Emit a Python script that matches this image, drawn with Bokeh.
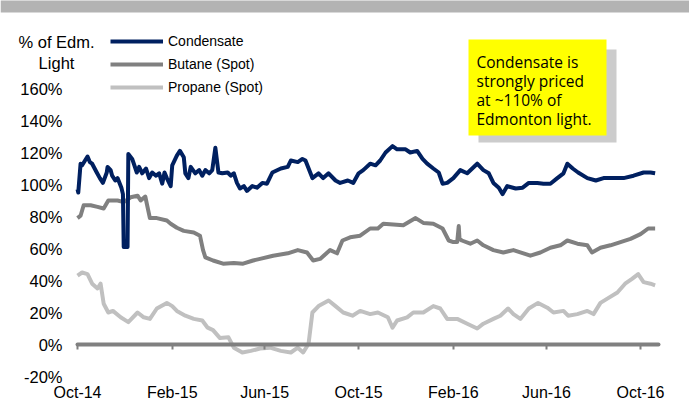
import pandas as pd
from bokeh.plotting import figure
from bokeh.models import (ColumnDataSource, LinearAxis, FixedTicker, BoxAnnotation,
                          Label, Legend, LegendItem, Range1d)
from bokeh.embed import file_html
from bokeh.resources import INLINE

# ---------------- data ----------------
cond_dates = ["2014-10-01","2014-10-02","2014-10-05","2014-10-07","2014-10-14","2014-10-17","2014-10-20",
              "2014-10-26","2014-10-30","2014-11-03","2014-11-08","2014-11-09","2014-11-13","2014-11-15",
              "2014-11-19","2014-11-22","2014-11-27","2014-11-29","2014-11-30","2014-12-05","2014-12-06",
              "2014-12-11","2014-12-17","2014-12-20","2014-12-24","2014-12-29","2015-01-02","2015-01-06",
              "2015-01-11","2015-01-15","2015-01-19","2015-01-22","2015-01-25","2015-01-30","2015-02-01",
              "2015-02-07","2015-02-11","2015-02-16","2015-02-18","2015-02-22","2015-02-25","2015-03-03",
              "2015-03-08","2015-03-12","2015-03-16","2015-03-21","2015-03-25","2015-03-29","2015-04-02",
              "2015-04-07","2015-04-14","2015-04-18","2015-04-22","2015-04-26","2015-04-30","2015-05-05",
              "2015-05-09","2015-05-16","2015-05-22","2015-05-29","2015-06-04","2015-06-11",
              "2015-06-22","2015-07-01","2015-07-05","2015-07-14","2015-07-20","2015-07-24","2015-08-02",
              "2015-08-10","2015-08-16","2015-08-23","2015-09-01","2015-09-07","2015-09-17","2015-09-24",
              "2015-10-01","2015-10-07","2015-10-16","2015-10-23","2015-10-29","2015-11-05","2015-11-14",
              "2015-11-20","2015-12-01","2015-12-07","2015-12-16","2015-12-23","2015-12-29","2016-01-06",
              "2016-01-13","2016-01-18","2016-01-24","2016-02-01","2016-02-10","2016-02-19","2016-03-03",
              "2016-03-11","2016-03-18","2016-03-24","2016-03-31","2016-04-05","2016-04-11","2016-04-22",
              "2016-05-01","2016-05-09","2016-05-20","2016-05-28","2016-06-06","2016-06-15","2016-06-23",
              "2016-06-28","2016-07-05","2016-07-12","2016-07-24","2016-08-04","2016-08-14","2016-08-27",
              "2016-09-09","2016-09-22","2016-10-05","2016-10-14","2016-10-20"]
cond_vals = [97, 95, 113, 112, 117.5, 114, 113,
             107.5, 104, 101, 107.5, 111, 109, 105.5,
             102.5, 104, 98, 94, 61, 61, 119,
             116, 107.5, 111, 107, 110, 104, 107.5,
             105.5, 107, 100.5, 107.5, 104, 99, 112,
             118, 121, 117, 107, 104, 111, 107,
             109, 105.5, 109, 107, 109, 123, 107.5,
             107, 107.5, 105.5, 107, 101, 97.5, 99,
             96, 99, 98, 101, 100.5, 107.5,
             110, 111, 115, 114, 116, 115, 104,
             107, 104, 107, 102.5, 101, 102.5, 101,
             107, 109, 113, 112, 115, 120, 124,
             122, 122, 120, 121, 116, 113, 110,
             107.5, 100.5, 101, 104, 109, 107, 113,
             109, 107, 101, 98, 94, 99, 97.5,
             98, 101, 101, 100.5, 100.5, 104, 107,
             113, 110, 107.5, 104, 102.5, 104, 104,
             104, 105.5, 107.5, 107.5, 107]

butane_dates = ["2014-10-01","2014-10-05","2014-10-09","2014-10-18","2014-10-27","2014-11-04","2014-11-10",
                "2014-11-22","2014-11-30","2014-12-09","2014-12-18","2014-12-22","2014-12-28","2015-01-03",
                "2015-01-12","2015-01-25","2015-01-30","2015-02-07","2015-02-16","2015-03-01","2015-03-09",
                "2015-03-13","2015-03-16","2015-03-26","2015-04-08","2015-04-22","2015-05-04","2015-05-17",
                "2015-05-26","2015-06-12","2015-07-01","2015-07-14","2015-07-26","2015-08-03","2015-08-12",
                "2015-08-25","2015-09-03","2015-09-10","2015-09-20","2015-10-03","2015-10-16","2015-10-26",
                "2015-11-02","2015-11-15","2015-11-28","2015-12-14","2015-12-24","2016-01-06","2016-01-18",
                "2016-01-26","2016-02-01","2016-02-06","2016-02-08","2016-02-09","2016-02-12","2016-02-23",
                "2016-03-03","2016-03-11","2016-03-24","2016-04-06","2016-04-19","2016-05-02","2016-05-11",
                "2016-05-24","2016-06-06","2016-06-19","2016-06-28","2016-07-11","2016-07-24","2016-07-30",
                "2016-08-10","2016-08-23","2016-09-05","2016-09-18","2016-10-01","2016-10-11","2016-10-20"]
butane_vals = [79, 80.5, 87, 87, 86, 85, 90,
               90, 89, 92, 93, 90, 92.5, 79,
               79, 77.5, 75.5, 73, 71, 70, 68,
               59, 54.5, 52.5, 50.5, 51, 50.5, 52.5,
               53.5, 55.5, 57, 59, 57.5, 52.5, 53.5,
               59, 57, 65, 67, 68, 72.5, 72.5,
               75.5, 75, 74.5, 79, 76, 75.5, 72.5,
               65, 64, 64, 74, 66, 65, 63,
               65, 62, 59, 57.5, 59, 57, 55.5,
               57.5, 60.5, 62, 65, 63, 62, 57.5,
               60.5, 62, 64, 66, 69, 72.5, 72.5]

propane_dates = ["2014-10-01","2014-10-07","2014-10-14","2014-10-20","2014-10-27","2014-10-31","2014-11-04",
                 "2014-11-10","2014-11-16","2014-11-26","2014-12-06","2014-12-18","2014-12-26","2015-01-03",
                 "2015-01-12","2015-01-25","2015-02-01","2015-02-07","2015-02-18","2015-03-01","2015-03-12",
                 "2015-03-19","2015-03-26","2015-04-04","2015-04-15","2015-04-22","2015-05-03","2015-05-14",
                 "2015-05-26","2015-06-08","2015-06-22","2015-07-05","2015-07-14","2015-07-21","2015-07-28",
                 "2015-08-02","2015-08-10","2015-08-23","2015-09-01","2015-09-11","2015-09-23","2015-10-03",
                 "2015-10-16","2015-10-26","2015-11-08","2015-11-14","2015-11-20","2015-12-03","2015-12-11",
                 "2015-12-24","2016-01-06","2016-01-15","2016-01-24","2016-02-06","2016-02-19","2016-03-03",
                 "2016-03-11","2016-03-24","2016-04-02","2016-04-12","2016-04-19","2016-04-28","2016-05-09",
                 "2016-05-21","2016-06-02","2016-06-10","2016-06-23","2016-06-29","2016-07-11","2016-07-24",
                 "2016-08-01","2016-08-10","2016-08-20","2016-09-01","2016-09-11","2016-09-20","2016-09-28",
                 "2016-10-05","2016-10-14","2016-10-20"]
propane_vals = [43, 45, 44, 38, 35, 38, 25.5,
                20, 21, 17, 14, 20, 17, 16,
                22.5, 26, 24, 21, 18, 16, 15,
                10.5, 9, 4, 4.5, -2, -5, -4,
                -2.5, -2, -4, -5, -2, -5, 0.5,
                20, 24, 27.5, 24, 20, 18, 21,
                19, 20, 17, 10.5, 15, 17, 20,
                20, 24, 22.5, 16, 16, 13, 10,
                13, 16, 18, 22.5, 19, 16, 22.5,
                26, 23, 20, 21, 18, 19, 21,
                19, 26, 29, 32.5, 38, 41, 44,
                39, 38, 37]

tick_dates = ["2014-10-01", "2015-02-01", "2015-06-01", "2015-10-01", "2016-02-01", "2016-06-01", "2016-10-01"]
tick_labels = ["Oct-14", "Feb-15", "Jun-15", "Oct-15", "Feb-16", "Jun-16", "Oct-16"]
y_ticks = [-20, 0, 20, 40, 60, 80, 100, 120, 140, 160]
series_names = ["Condensate", "Butane (Spot)", "Propane (Spot)"]
note_lines = ["Condensate is", "strongly priced", "at ~110% of", "Edmonton light."]

# ---------------- layout calibration ----------------
OFF = 0                      # the page turned out to have no margin
W, H = 689 - 2 * OFF, 402 - 2 * OFF
T0 = pd.Timestamp("2014-10-01")
EPOCH = pd.Timestamp("1970-01-01")
PX_PER_DAY = 563 / 731.0      # reference pixels per day


def ms(ts):
    return (pd.Timestamp(ts) - EPOCH) / pd.Timedelta(milliseconds=1)


def xd(px):  # reference-pixel x -> ms
    return ms(T0 + pd.Timedelta(days=(px - 77) / PX_PER_DAY))


def yd(py):  # reference-pixel y -> value
    return 160 - (py - 88) / 1.6


p = figure(width=W, height=H, output_backend="svg", toolbar_location=None,
           x_range=Range1d(xd(OFF), xd(OFF + W)), y_range=Range1d(yd(OFF + H), yd(OFF)),
           x_axis_type=None, y_axis_type=None, min_border=0, outline_line_color=None)
p.background_fill_color = "white"
p.border_fill_color = "white"

FONT = "Liberation Sans"

# top grey band
p.add_layout(BoxAnnotation(top=yd(-50), bottom=yd(12), fill_color="#b3b3b3", fill_alpha=1,
                           line_color=None, level="underlay"))

# y axis (labels only)
yax = LinearAxis(ticker=FixedTicker(ticks=y_ticks),
                 major_label_overrides={v: f"{v}%" for v in y_ticks},
                 fixed_location=ms(T0), axis_line_color=None,
                 major_tick_line_color=None, minor_tick_line_color=None,
                 major_tick_out=0, major_tick_in=0, major_label_standoff=15,
                 major_label_text_font=FONT, major_label_text_font_size="16.5px",
                 major_label_text_color="black")
p.add_layout(yax, "left")

tick_ms = [ms(t) for t in tick_dates]
# zero line with ticks
xax0 = LinearAxis(ticker=FixedTicker(ticks=tick_ms), fixed_location=0,
                  bounds=(ms(T0), xd(658)),
                  major_label_overrides={t: "" for t in tick_ms},
                  axis_line_color="#808080", axis_line_width=4, axis_line_cap="round",
                  major_tick_out=5, major_tick_in=0, major_tick_line_color="#808080",
                  major_tick_line_width=2, minor_tick_line_color=None)
p.add_layout(xax0, "below")
# date labels
xax1 = LinearAxis(ticker=FixedTicker(ticks=tick_ms), fixed_location=yd(383),
                  major_label_overrides=dict(zip(tick_ms, tick_labels)),
                  axis_line_color=None, major_tick_line_color=None, minor_tick_line_color=None,
                  major_tick_out=0, major_tick_in=0, major_label_standoff=0,
                  major_label_text_font=FONT, major_label_text_font_size="16px",
                  major_label_text_color="black")
p.add_layout(xax1, "below")

src_p = ColumnDataSource(dict(d=pd.to_datetime(propane_dates), v=propane_vals))
src_b = ColumnDataSource(dict(d=pd.to_datetime(butane_dates), v=butane_vals))
src_c = ColumnDataSource(dict(d=pd.to_datetime(cond_dates), v=cond_vals))
r_p = p.line("d", "v", source=src_p, line_color="#c0c0c0", line_width=4, line_join="round")
r_b = p.line("d", "v", source=src_b, line_color="#808080", line_width=4, line_join="round")
r_c = p.line("d", "v", source=src_c, line_color="#002060", line_width=4, line_join="round")

legend = Legend(items=[LegendItem(label=series_names[0], renderers=[r_c]),
                       LegendItem(label=series_names[1], renderers=[r_b]),
                       LegendItem(label=series_names[2], renderers=[r_p])],
                location=(110 - OFF, H - (97 - OFF)), orientation="vertical",
                glyph_width=53, glyph_height=20, label_height=20, spacing=3,
                label_standoff=5, padding=0, margin=0, border_line_color=None,
                background_fill_alpha=0, label_text_font=FONT,
                label_text_font_size="14px", label_text_color="black")
p.add_layout(legend)

# y axis title
p.add_layout(Label(x=xd(56), y=yd(41), text="% of Edm.", text_align="center",
                   text_baseline="alphabetic", text_font=FONT, text_font_size="16.5px",
                   text_color="black"))
p.add_layout(Label(x=xd(56), y=yd(62.5), text="Light", text_align="center",
                   text_baseline="alphabetic", text_font=FONT, text_font_size="16.5px",
                   text_color="black"))

# note box with shadow
p.add_layout(BoxAnnotation(left=xd(478), right=xd(616), top=yd(49), bottom=yd(142),
                           fill_color="#cccccc", fill_alpha=1, line_color=None))
p.add_layout(BoxAnnotation(left=xd(468), right=xd(606), top=yd(39), bottom=yd(135),
                           fill_color="#ffff00", fill_alpha=1, line_color=None))
for i, line in enumerate(note_lines):
    p.add_layout(Label(x=xd(476), y=yd(61.5 + 19.1 * i), text=line, text_align="left",
                       text_baseline="alphabetic", text_font="Open Sans",
                       text_font_size="15.5px", text_color="black"))

open("out.html", "w").write(file_html(p, INLINE))
